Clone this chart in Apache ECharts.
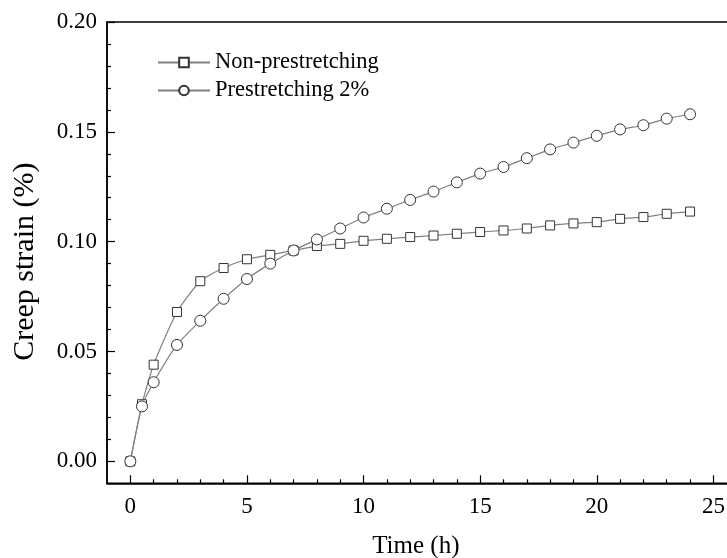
<!DOCTYPE html>
<html><head><meta charset="utf-8">
<script src="https://cdn.jsdelivr.net/npm/echarts@6/dist/echarts.min.js"></script>
<style>html,body{margin:0;padding:0;background:#fff}#c{width:727px;height:558px}</style>
</head><body><div id="c"></div>
<script>
const timeH = [0,0.5,1,2,3,4,5,6,7,8,9,10,11,12,13,14,15,16,17,18,19,20,21,22,23,24];
const nonPrestretching = [0,0.026,0.044,0.068,0.082,0.088,0.092,0.094,0.096,0.098,0.099,0.1004,0.1013,0.1021,0.1028,0.1036,0.1044,0.1051,0.106,0.1074,0.1083,0.1089,0.1104,0.1112,0.1127,0.1137];
const prestretching2 = [0,0.025,0.036,0.053,0.064,0.074,0.083,0.090,0.096,0.101,0.106,0.111,0.115,0.119,0.1228,0.127,0.131,0.134,0.138,0.142,0.1451,0.1482,0.1511,0.153,0.156,0.158];
const xMajorTicks = [0,5,10,15,20,25];
const xMinorTicks = [1,2,3,4,6,7,8,9,11,12,13,14,16,17,18,19,21,22,23,24];
const yMajorTicks = [0,0.05,0.10,0.15,0.20];
const yMinorTicks = [0.01,0.02,0.03,0.04,0.06,0.07,0.08,0.09,0.11,0.12,0.13,0.14,0.16,0.17,0.18,0.19];

const font = 'Liberation Serif';
const chart = echarts.init(document.getElementById('c'), null, {renderer:'canvas'});
const pair = (xs, ys) => xs.map((x,i)=>[x, ys[i]]);
const axisLine = {onZero:false, lineStyle:{color:'#000', width:1.5}};
chart.setOption({
  animation:false,
  backgroundColor:'#fff',
  grid:{left:107, top:22, right:-9.7, bottom:74.7, show:true, borderColor:'#000', borderWidth:1.5, containLabel:false, outerBoundsMode:'none'},
  legend:{
    orient:'vertical', left:152, top:46, itemWidth:52, itemHeight:12, itemGap:5,
    textStyle:{fontFamily:font, fontSize:22.5, lineHeight:22, color:'#000'},
    data:['Non-prestretching','Prestretching 2%']
  },
  xAxis:[
    {type:'value', min:-1, max:26, name:'Time (h)', nameLocation:'middle', nameGap:51,
     nameTextStyle:{fontFamily:font, fontSize:25, color:'#000', padding:[0,12,0,0]},
     axisLine:axisLine, splitLine:{show:false},
     axisTick:{inside:true, length:8, customValues:xMajorTicks, lineStyle:{color:'#000', width:1.2}},
     axisLabel:{customValues:xMajorTicks, fontFamily:font, fontSize:23, color:'#000', margin:12}},
    {type:'value', min:-1, max:26, position:'bottom', gridIndex:0,
     axisLine:{show:false, onZero:false}, splitLine:{show:false},
     axisTick:{inside:true, length:4, customValues:xMinorTicks, lineStyle:{color:'#000', width:1.2}},
     axisLabel:{show:false}}
  ],
  yAxis:[
    {type:'value', min:-0.01, max:0.2, name:'Creep strain (%)', nameLocation:'middle', nameGap:67, nameRotate:90,
     nameTextStyle:{fontFamily:font, fontSize:30, color:'#000', padding:[0,18,0,0]},
     axisLine:axisLine, splitLine:{show:false},
     axisTick:{inside:true, length:8, customValues:yMajorTicks, lineStyle:{color:'#000', width:1.2}},
     axisLabel:{customValues:yMajorTicks, formatter:v=>v.toFixed(2), fontFamily:font, fontSize:23, color:'#000', margin:10}},
    {type:'value', min:-0.01, max:0.2, position:'left',
     axisLine:{show:false, onZero:false}, splitLine:{show:false},
     axisTick:{inside:true, length:4, customValues:yMinorTicks, lineStyle:{color:'#000', width:1.2}},
     axisLabel:{show:false}}
  ],
  series:[
    {name:'Non-prestretching', type:'line', data:pair(timeH, nonPrestretching), smooth:0.2,
     symbol:'rect', symbolSize:9, showAllSymbol:true,
     lineStyle:{color:'#808080', width:1.2}, itemStyle:{color:'#fff', borderColor:'#333', borderWidth:1}},
    {name:'Prestretching 2%', type:'line', data:pair(timeH, prestretching2), smooth:0.2,
     symbol:'circle', symbolSize:11, showAllSymbol:true,
     lineStyle:{color:'#808080', width:1.2}, itemStyle:{color:'#fff', borderColor:'#333', borderWidth:1}}
  ]
});
</script></body></html>
